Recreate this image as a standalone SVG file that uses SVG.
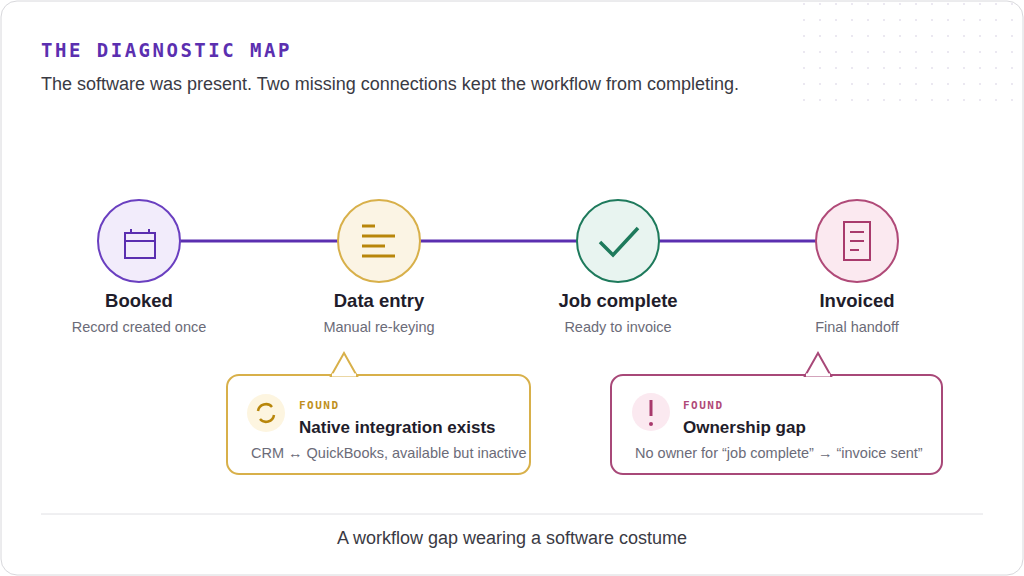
<svg xmlns="http://www.w3.org/2000/svg" width="1024" height="576" viewBox="0 0 1024 576">
<defs>
<pattern id="dots" x="0" y="0" width="16" height="16" patternUnits="userSpaceOnUse"><circle cx="4" cy="4" r="1" fill="#e4e0ec"/></pattern>
<style>
.t{font-family:"Liberation Sans",Arial,sans-serif}
.nm{font-size:18.5px;font-weight:bold;fill:#1f1d2b;text-anchor:middle}
.sb{font-size:14.5px;fill:#6b6b78;text-anchor:middle}
.fd{font-family:"DejaVu Sans Mono",monospace;font-size:11px;font-weight:bold;letter-spacing:1.5px}
.ct{font-size:17px;font-weight:bold;fill:#1f1d2b}
.cd{font-size:14.5px;fill:#6b6b78}
</style>
</defs>
<rect x="1" y="1" width="1022" height="574" rx="16" fill="#fff" stroke="#d8d8dc"/>
<rect x="796" y="2" width="226" height="110" fill="url(#dots)"/>
<text x="41" y="57" font-family="DejaVu Sans Mono,monospace" font-size="19" font-weight="bold" fill="#5b2fb0" letter-spacing="2.5">THE DIAGNOSTIC MAP</text>
<text x="41" y="90" class="t" font-size="18" fill="#3a3a44">The software was present. Two missing connections kept the workflow from completing.</text>
<g id="connectors"><line x1="180" y1="241" x2="816" y2="241" stroke="#5b2fb0" stroke-width="3"/></g>
<g id="booked">
<circle cx="139" cy="241" r="41" fill="#f2ecfb" stroke="#6a3fc0" stroke-width="2"/>
<g fill="none" stroke="#5b2fb0" stroke-width="2"><rect x="125" y="233" width="30" height="25"/><line x1="125" y1="241" x2="155" y2="241"/><line x1="131" y1="229" x2="131" y2="233"/><line x1="149" y1="229" x2="149" y2="233"/></g>
<text x="139" y="307" class="t nm">Booked</text><text x="139" y="332" class="t sb">Record created once</text>
</g>
<g id="data-entry">
<circle cx="379" cy="241" r="41" fill="#fbf4e4" stroke="#d8b04a" stroke-width="2"/>
<g stroke="#b8860b" stroke-width="3"><line x1="362" y1="226" x2="375" y2="226"/><line x1="362" y1="236" x2="395" y2="236"/><line x1="362" y1="246" x2="385" y2="246"/><line x1="362" y1="256" x2="395" y2="256"/></g>
<text x="379" y="307" class="t nm">Data entry</text><text x="379" y="332" class="t sb">Manual re-keying</text>
</g>
<g id="job-complete">
<circle cx="618" cy="241" r="41" fill="#e8f4f0" stroke="#1e7a5c" stroke-width="2"/>
<polyline points="600,242 613,255 638,228" fill="none" stroke="#1e7a5c" stroke-width="3.5"/>
<text x="618" y="307" class="t nm">Job complete</text><text x="618" y="332" class="t sb">Ready to invoice</text>
</g>
<g id="invoiced">
<circle cx="857" cy="241" r="41" fill="#fbe9f0" stroke="#b04a78" stroke-width="2"/>
<g fill="none" stroke="#a83a6c" stroke-width="2"><rect x="844" y="222" width="26" height="38"/><line x1="850" y1="232" x2="864" y2="232"/><line x1="850" y1="241" x2="864" y2="241"/><line x1="850" y1="250" x2="859" y2="250"/></g>
<text x="857" y="307" class="t nm">Invoiced</text><text x="857" y="332" class="t sb">Final handoff</text>
</g>
<g id="callout-integration">
<rect x="227" y="375" width="303" height="99" rx="12" fill="#fff" stroke="#d8b04a" stroke-width="2"/>
<polygon points="331,376 344,353 357,376" fill="#fff" stroke="#d8b04a" stroke-width="2"/>
<line x1="332" y1="375" x2="356" y2="375" stroke="#fff" stroke-width="3"/>
<circle cx="266" cy="413" r="19" fill="#fdf5e0"/>
<path d="M258,411 A8,8 0 0 1 272,407 M274,415 A8,8 0 0 1 260,419" fill="none" stroke="#b8860b" stroke-width="2.5"/>
<text x="299" y="409" class="fd" fill="#c09020">FOUND</text>
<text x="299" y="433" class="t ct">Native integration exists</text>
<text x="251" y="458" class="t cd">CRM ↔ QuickBooks, available but inactive</text>
</g>
<g id="callout-ownership">
<rect x="611" y="375" width="331" height="99" rx="12" fill="#fff" stroke="#a84878" stroke-width="2"/>
<polygon points="805,376 818,353 831,376" fill="#fff" stroke="#a84878" stroke-width="2"/>
<line x1="806" y1="375" x2="830" y2="375" stroke="#fff" stroke-width="3"/>
<circle cx="651" cy="412" r="19" fill="#fbe9f0"/>
<line x1="651" y1="400" x2="651" y2="416" stroke="#a83a6c" stroke-width="3"/><circle cx="651" cy="424" r="2" fill="#a83a6c"/>
<text x="683" y="409" class="fd" fill="#b04a78">FOUND</text>
<text x="683" y="433" class="t ct">Ownership gap</text>
<text x="635" y="458" class="t cd">No owner for “job complete” → “invoice sent”</text>
</g>
<line x1="41" y1="514" x2="983" y2="514" stroke="#e0e0e4"/>
<text x="512" y="544" class="t" font-size="18" fill="#3a3a44" text-anchor="middle">A workflow gap wearing a software costume</text>
</svg>
